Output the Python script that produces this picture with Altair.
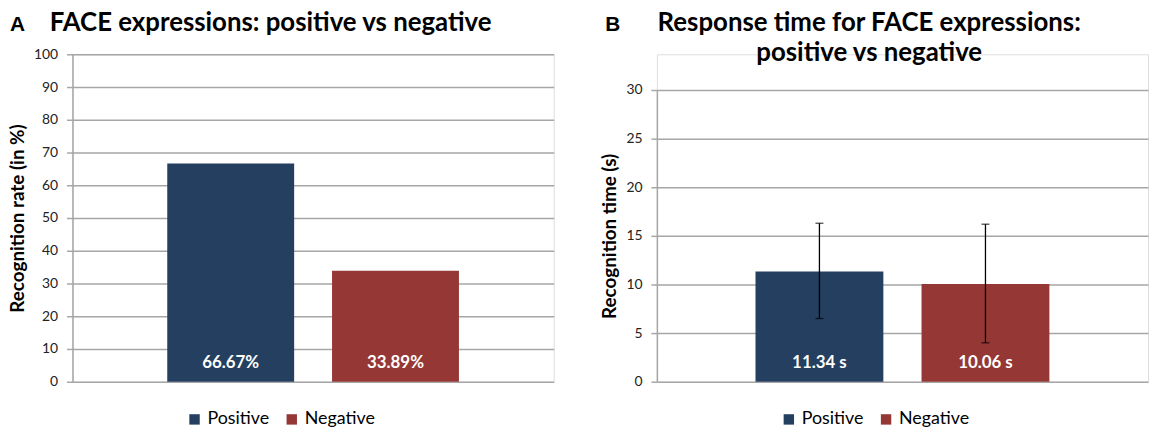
import altair as alt
import pandas as pd

# ---- data ----
categories = ["Positive", "Negative"]
rate_values = [66.67, 33.89]
rate_labels = ["66.67%", "33.89%"]
time_values = [11.34, 10.06]
time_labels = ["11.34 s", "10.06 s"]
time_err_low = [6.5, 4.0]
time_err_high = [16.3, 16.2]

title_a = "FACE expressions: positive vs negative"
title_b1 = "Response time for FACE expressions:"
title_b2 = "positive vs negative"
letters = ["A", "B"]
ytitle_a = "Recognition rate (in %)"
ytitle_b = "Recognition time (s)"
ticks_a = list(range(0, 101, 10))
ticks_b = list(range(0, 31, 5))

colors = ["#243F60", "#953735"]
FONT = "Lato"
GRID = "#a6a6a6"
H = 330
TB = -23  # title baseline relative to plot top

df_a = pd.DataFrame({"cat": categories, "val": rate_values, "lab": rate_labels})
df_b = pd.DataFrame({"cat": categories, "val": time_values, "lab": time_labels,
                     "lo": time_err_low, "hi": time_err_high})

color_scale = alt.Scale(domain=categories, range=colors)


def xenc(po):
    return alt.X("cat:N", sort=categories, axis=None,
                 scale=alt.Scale(paddingInner=0.23, paddingOuter=po))


def yaxis(title, step_vals):
    return alt.Axis(title=title, values=step_vals, grid=True, gridColor=GRID,
                    gridWidth=1.5, domainColor=GRID, domainWidth=1.5,
                    tickColor=GRID, tickWidth=1.5, tickSize=6, labelPadding=9,
                    labelOverlap=False, labelFont=FONT, labelFontSize=14,
                    labelColor="#222", titleFont=FONT, titleFontSize=19,
                    titleFontWeight="bold", titleColor="#000", titlePadding=6)


def legend(lx, ly):
    return alt.Legend(title=None, orient="none", legendX=lx, legendY=ly,
                      direction="horizontal", symbolType="square", symbolSize=110,
                      symbolStrokeWidth=0, labelFont=FONT, labelFontSize=18,
                      labelColor="#000", labelOffset=4, columnPadding=13)


def text_layer(txt, x, y, size, align="left", font=FONT):
    return alt.Chart(pd.DataFrame({"t": [txt]})).mark_text(
        font=font, fontSize=size, fontWeight="bold", align=align,
        baseline="alphabetic", color="#000"
    ).encode(text="t:N", x=alt.value(x), y=alt.value(y))


# ---- panel A ----
base_a = alt.Chart(df_a)
axis_a = yaxis(ytitle_a, ticks_a)
scale_a = alt.Scale(domain=[0, 100])
bars_a = base_a.mark_bar().encode(
    x=xenc(0.575), y=alt.Y("val:Q", scale=scale_a, axis=axis_a),
    color=alt.Color("cat:N", scale=color_scale, sort=categories,
                    legend=legend(114, 359)))
labs_a = base_a.mark_text(font=FONT, fontSize=17, fontWeight="bold",
                          color="white", dy=-19, baseline="middle").encode(
    x=xenc(0.575), y=alt.YDatum(0, scale=scale_a, axis=axis_a), text="lab:N")
panel_a = alt.layer(
    bars_a, labs_a,
    text_layer(letters[0], -63, TB, 21, font="Liberation Sans"),
    text_layer(title_a, -23, TB, 26),
).properties(width=485, height=H)

# ---- panel B ----
base_b = alt.Chart(df_b)
axis_b = yaxis(ytitle_b, ticks_b)
scale_b = alt.Scale(domain=[0, 30], range=[H, 36])
bars_b = base_b.mark_bar().encode(
    x=xenc(0.594), y=alt.Y("val:Q", scale=scale_b, axis=axis_b),
    color=alt.Color("cat:N", scale=color_scale, sort=categories,
                    legend=legend(124, 359)))
err_b = base_b.mark_rule(color="black", strokeWidth=1.3).encode(
    x=xenc(0.594), y="lo:Q", y2="hi:Q")
cap_lo = base_b.mark_tick(color="black", size=8, thickness=1.3).encode(
    x=xenc(0.594), y="lo:Q")
cap_hi = base_b.mark_tick(color="black", size=8, thickness=1.3).encode(
    x=xenc(0.594), y="hi:Q")
labs_b = base_b.mark_text(font=FONT, fontSize=17, fontWeight="bold",
                          color="white", dy=-19, baseline="middle").encode(
    x=xenc(0.594), y=alt.YDatum(0, scale=scale_b, axis=axis_b), text="lab:N")
panel_b = alt.layer(
    bars_b, err_b, cap_lo, cap_hi, labs_b,
    text_layer(letters[1], -52, TB, 21, font="Liberation Sans"),
    text_layer(title_b1, 214, TB, 26, align="center"),
    text_layer(title_b2, 214, TB + 30, 26, align="center"),
).properties(width=495, height=H)

chart = alt.hconcat(panel_a, panel_b, spacing=46).resolve_scale(
    color="independent", y="independent"
).resolve_legend(color="independent").properties(padding=0).configure_view(
    stroke=None
).configure(background="white")

chart.save("out.html", embed_options={"renderer": "svg", "actions": False})
